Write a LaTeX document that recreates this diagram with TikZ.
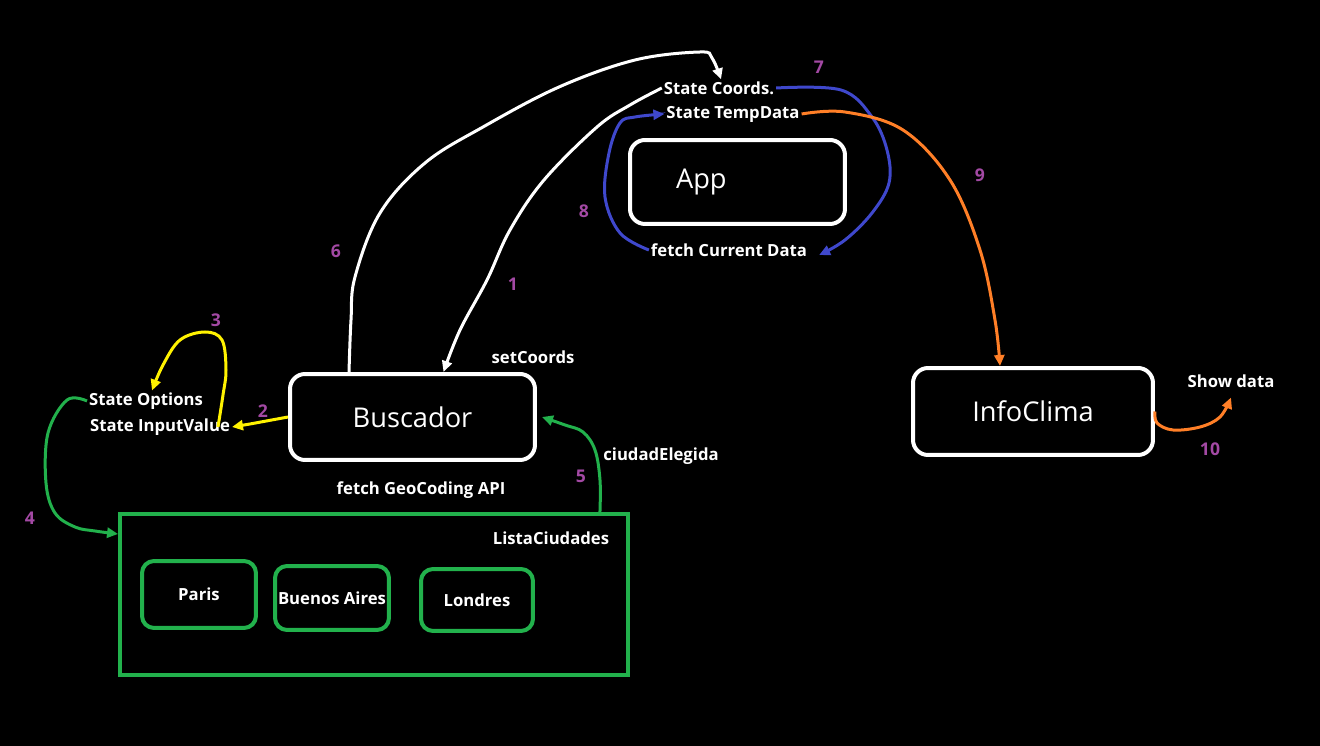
\documentclass[tikz,border=0pt]{standalone}
\usepackage{fontspec}
\setmainfont{Open Sans}
\usetikzlibrary{positioning,arrows.meta}
\definecolor{pyellow}{RGB}{255,242,0}
\definecolor{pgreen}{RGB}{34,177,76}
\definecolor{pblue}{RGB}{63,72,204}
\definecolor{porange}{RGB}{255,127,39}
\definecolor{pnum}{RGB}{163,73,164}

\tikzset{
    box/.style={draw=white, line width=0.08cm, rounded corners=0.3cm, text=white,
        font=\fontsize{15.5}{18}\selectfont},
    city/.style={draw=pgreen, line width=0.08cm, rounded corners=0.24cm, text=white,
        inner xsep=0pt, font=\bfseries\fontsize{9.5}{11}\selectfont},
    lbl/.style={text=white, inner sep=1pt, font=\bfseries\fontsize{9.5}{11}\selectfont},
    num/.style={text=pnum, inner sep=1pt, font=\bfseries\fontsize{10}{12}\selectfont},
    flow/.style={line width=0.06cm, -{Triangle[length=0.22cm,width=0.2cm]}},
}

\begin{document}
\begin{tikzpicture}[x=0.02cm, y=-0.02cm]
    \useasboundingbox[fill=black] (0,0) rectangle (1320,746);
    % components
    \node[box, minimum width=4.3cm, minimum height=1.68cm, text width=2.46cm,
        inner xsep=0.92cm, align=left] (app) at (737.5,182) {App};
    \node[box, minimum width=4.9cm, minimum height=1.72cm] (bus) at (412.5,417) {Buscador};
    \node[box, minimum width=4.8cm, minimum height=1.74cm] (info) at (1033,411.5) {InfoClima};
    \node[draw=pgreen, line width=0.08cm, minimum width=10.16cm, minimum height=3.22cm]
        (lista) at (374,594.5) {};
    \node[city, minimum width=2.28cm, minimum height=1.34cm] (paris) at (199,594.5) {Paris};
    \node[city, minimum width=2.28cm, minimum height=1.28cm] (baires) at (332,598) {Buenos Aires};
    \node[city, minimum width=2.24cm, minimum height=1.24cm] (londres) at (477,600) {Londres};
    % texts
    \node[lbl] (lname) at (551,538) {ListaCiudades};
    \node[lbl] (coords) at (719,88) {State Coords.};
    \node[lbl] (temp) at (733,114) {State TempData};
    \node[lbl] (fetchcur) at (729,250) {fetch Current Data};
    \node[lbl] (setc) at (533,357) {setCoords};
    \node[lbl] (opts) at (146,401) {State Options};
    \node[lbl] (inval) at (160,427) {State InputValue};
    \node[lbl] (fetchgeo) at (421,490) {fetch GeoCoding API};
    \node[lbl] (elegida) at (661,456) {ciudadElegida};
    \node[lbl] (show) at (1231,381) {Show data};
    % step numbers
    \foreach \n/\x/\y in {1/513/284, 2/263/411, 3/216/320, 4/30/518, 5/581/476,
        6/336/251, 7/819/67, 8/584/211, 9/980/175, 10/1210/449}{
        \node[num] (n\n) at (\x,\y) {\n};
    }
    % anchors for the arrow ends
    \coordinate (s6) at ([xshift=-1.27cm]bus.north);
    \coordinate (e6) at ([xshift=0.04cm]coords.north);
    \coordinate (e1) at ([xshift=0.62cm]bus.north);
    \coordinate (e7) at ([shift={(0.2cm,-0.1cm)}]fetchcur.east);
    \coordinate (e9) at ([xshift=-0.66cm]info.north);
    \coordinate (e10) at ([yshift=-0.16cm]show.south);
    \coordinate (s3) at ([xshift=-0.28cm]inval.east);
    \coordinate (e3) at ([xshift=0.12cm]opts.north);
    \coordinate (e4) at ([yshift=-0.44cm]lista.north west);
    \coordinate (s5) at ([xshift=-0.6cm]lista.north east);
    \coordinate (e5) at ([xshift=0.1cm]bus.east);
    % flows
    \draw[flow, white] plot[smooth, tension=0.6] coordinates {(s6) (351,320) (355,277)
        (380,213) (425,163) (483,127) (559,87) (635,60) (700,52) (712,58) (e6)};
    \draw[flow, white] plot[smooth, tension=0.6] coordinates {(coords.west) (630,105)
        (597,127) (544,180) (510,230) (487,280) (460,330) (e1)};
    \draw[flow, pyellow] (bus.west) -- (250,424) -- (inval.east);
    \draw[flow, pyellow] plot[smooth, tension=0.6] coordinates {(s3) (223,395) (226,370)
        (222,340) (205,332) (180,340) (163,365) (e3)};
    \draw[flow, pgreen] plot[smooth, tension=0.6] coordinates {(opts.west) (67,400)
        (48,433) (46,483) (55,513) (75,527) (95,531) (e4)};
    \draw[flow, pgreen] plot[smooth, tension=0.6] coordinates {(s5) (600,480) (595,450)
        (583,432) (565,425) (e5)};
    \draw[flow, pblue] plot[smooth, tension=0.6] coordinates {(coords.east) (841,90)
        (872,117) (887,150) (889,183) (872,213) (845,240) (e7)};
    \draw[flow, pblue] plot[smooth, tension=0.6] coordinates {(fetchcur.west) (620,233)
        (605,197) (609,153) (620,123) (635,117) (temp.west)};
    \draw[flow, porange] plot[smooth, tension=0.6] coordinates {(temp.east) (845,112)
        (903,130) (950,180) (980,250) (995,320) (e9)};
    \draw[flow, porange] plot[smooth, tension=0.6] coordinates {(info.east) (1157,423)
        (1173,430) (1200,427) (1220,417) (e10)};
\end{tikzpicture}
\end{document}
